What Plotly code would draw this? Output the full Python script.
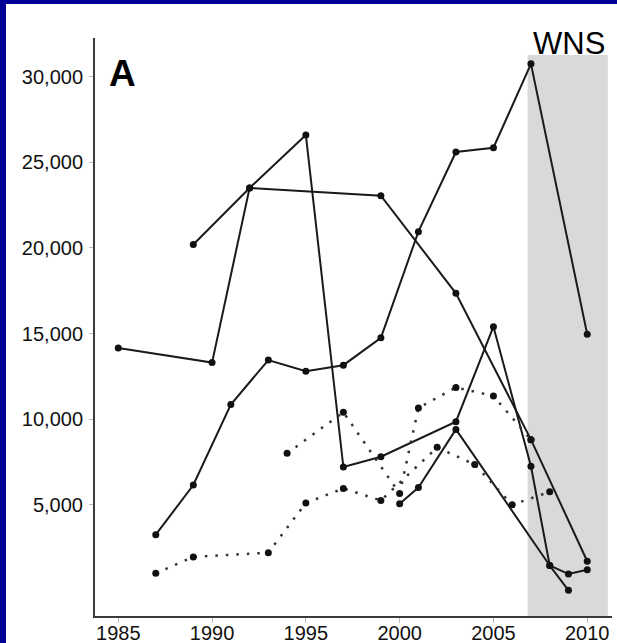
import plotly.graph_objects as go

# ---- data ----
s1_years = [1985, 1990, 1992, 1999, 2003, 2007, 2010]
s1_vals = [14150, 13300, 23500, 23050, 17350, 8800, 1700]

s2_years = [1989, 1992, 1995, 1997, 1999, 2003, 2005, 2007, 2008, 2009]
s2_vals = [20200, 23500, 26600, 7200, 7800, 9850, 15400, 7250, 1450, 0]

s3_years = [1987, 1989, 1991, 1993, 1995, 1997, 1999, 2001, 2003, 2005, 2007, 2010]
s3_vals = [3250, 6150, 10850, 13450, 12800, 13150, 14750, 20950, 25600, 25850, 30750, 14950]

s4_years = [2000, 2001, 2003, 2008, 2009, 2010]
s4_vals = [5050, 6000, 9400, 1450, 950, 1200]

d1_years = [1994, 1997, 2000, 2001, 2003, 2005, 2007]
d1_vals = [8000, 10400, 5650, 10650, 11850, 11350, 8800]

d2_years = [1987, 1989, 1993, 1995, 1997, 1999, 2002, 2004, 2006, 2008]
d2_vals = [1000, 1950, 2200, 5100, 5950, 5250, 8350, 7350, 5000, 5750]

x_ticks = [1985, 1990, 1995, 2000, 2005, 2010]
y_ticks = [5000, 10000, 15000, 20000, 25000, 30000]
y_tick_labels = ["5,000", "10,000", "15,000", "20,000", "25,000", "30,000"]

wns_start, wns_end, wns_top = 2006.82, 2011.1, 31270
panel_label = "A"
wns_label = "WNS"

# ---- layout geometry ----
W, H = 617, 643
ML, MR, MT, MB = 95, 5, 38, 27
PW, PH = W - ML - MR, H - MT - MB
Y0, Y1 = -1500, 32260


def px(x):
    return (x - ML) / PW


def py(y):
    return (H - MB - y) / PH


fig = go.Figure()

solid = [(s1_years, s1_vals), (s2_years, s2_vals), (s3_years, s3_vals), (s4_years, s4_vals)]
for xs, ys in solid:
    fig.add_trace(go.Scatter(
        x=xs, y=ys, mode="lines+markers",
        line=dict(color="#1a1a1a", width=2),
        marker=dict(color="#111111", size=7),
        showlegend=False, hoverinfo="skip"))

dotted = [(d1_years, d1_vals), (d2_years, d2_vals)]
for xs, ys in dotted:
    fig.add_trace(go.Scatter(
        x=xs, y=ys, mode="lines+markers",
        line=dict(color="#333333", width=2.5, dash="2.5px,8px"),
        marker=dict(color="#111111", size=7),
        showlegend=False, hoverinfo="skip"))

shapes = [
    dict(type="rect", xref="x", yref="paper", x0=wns_start, x1=wns_end,
         y0=0, y1=(wns_top - Y0) / (Y1 - Y0),
         fillcolor="#d9d9d9", line=dict(width=0), layer="below"),
    dict(type="rect", xref="paper", yref="paper", x0=px(0), x1=px(6),
         y0=py(H), y1=py(0), fillcolor="#000096", line=dict(width=0)),
    dict(type="rect", xref="paper", yref="paper", x0=px(0), x1=px(W),
         y0=py(4), y1=py(0), fillcolor="#000096", line=dict(width=0)),
]

annotations = [
    dict(text="<b>" + panel_label + "</b>", xref="paper", yref="paper",
         x=px(107), y=py(73), xanchor="left", yanchor="middle", showarrow=False,
         font=dict(family="Liberation Sans, Arial", size=37, color="#000000")),
    dict(text=wns_label, xref="paper", yref="paper", x=px(569), y=py(43),
         xanchor="center", yanchor="middle", showarrow=False,
         font=dict(family="Liberation Sans, Arial", size=31, color="#000000")),
]

fig.update_layout(
    template="none",
    width=W, height=H,
    margin=dict(l=ML, r=MR, t=MT, b=MB, pad=0, autoexpand=False),
    paper_bgcolor="white", plot_bgcolor="white",
    shapes=shapes, annotations=annotations,
    font=dict(family="Liberation Sans, Arial", size=20, color="#111111"),
    xaxis=dict(range=[1983.76, 2011.32], tickvals=x_ticks, automargin=False,
               showline=True, linecolor="#3a3a3a", linewidth=2,
               ticks="outside", ticklen=5, tickwidth=1, tickcolor="#bbbbbb",
               ticklabelstandoff=-7,
               showgrid=False, zeroline=False, fixedrange=True),
    yaxis=dict(range=[Y0, Y1], tickvals=y_ticks, ticktext=y_tick_labels,
               automargin=False,
               showline=True, linecolor="#3a3a3a", linewidth=2,
               ticks="outside", ticklen=4, tickwidth=1, tickcolor="#bbbbbb",
               ticklabelstandoff=2,
               showgrid=False, zeroline=False, fixedrange=True),
)

fig.write_html(
    "out.html",
    config={"displayModeBar": False},
    post_script="document.body.style.margin='0';document.body.style.padding='0';",
)
